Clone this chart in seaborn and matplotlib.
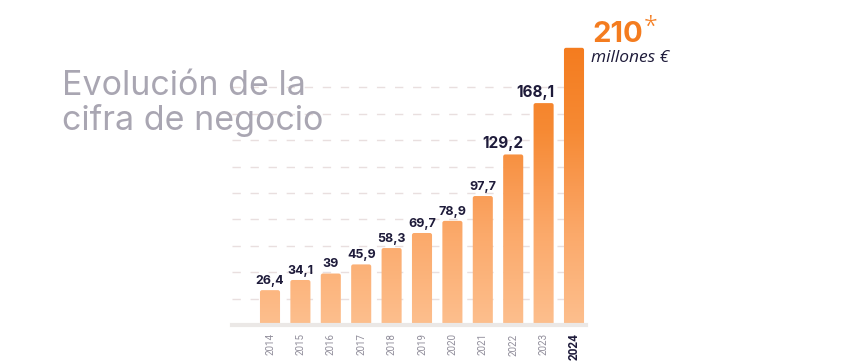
import numpy as np
import pandas as pd
import matplotlib
matplotlib.use("Agg")
import matplotlib.pyplot as plt
from matplotlib.colors import LinearSegmentedColormap
from matplotlib.patches import FancyBboxPatch
import seaborn as sns

# data
years = ["2014", "2015", "2016", "2017", "2018", "2019", "2020", "2021", "2022", "2023", "2024"]
revenue = [26.4, 34.1, 39, 45.9, 58.3, 69.7, 78.9, 97.7, 129.2, 168.1, 210]
value_labels = ["26,4", "34,1", "39", "45,9", "58,3", "69,7", "78,9", "97,7", "129,2", "168,1", "210"]
title = "Evolución de la\ncifra de negocio"
unit = "millones €"

df = pd.DataFrame({"year": years, "revenue": revenue})

sns.set_theme(style="white")
plt.rcParams["font.family"] = ["Open Sans", "DejaVu Sans"]

W, H = 841, 361
fig = plt.figure(figsize=(W / 100, H / 100), dpi=100)

# axes placed in pixels: baseline at y=325, bar centres at 270 + 30.4*i
px_per_unit = 1.32
ax_left, ax_right = 232, 586
ax_bottom, ax_top = 325, 5
x0 = (ax_left - 270) / 30.4
x1 = (ax_right - 270) / 30.4
ymax = (ax_bottom - ax_top) / px_per_unit
ax = fig.add_axes([ax_left / W, (H - ax_bottom) / H, (ax_right - ax_left) / W, (ax_bottom - ax_top) / H])

sns.barplot(data=df, x="year", y="revenue", ax=ax, width=0.66, color="#f7913d")
ax.set_xlim(x0, x1)
ax.set_ylim(0, ymax)

# dashed guide lines
for g in range(20, 200, 20):
    ax.axhline(g, color="#e9dfdf", lw=1.0, ls=(0, (6, 7)), zorder=0)

# gradient fill clipped to rounded bars
cmap = LinearSegmentedColormap.from_list(
    "orange", [(0, "#fdbf8e"), (0.33, "#fba96a"), (0.5, "#f99a52"), (0.7, "#f68a34"), (1, "#f47c1f")])
grad = np.linspace(0, 1, 256).reshape(-1, 1)
aspect = 30.4 / px_per_unit
for p in list(ax.patches):
    x, w, h = p.get_x(), p.get_width(), p.get_height()
    p.set_visible(False)
    rb = FancyBboxPatch((x, 0), w, h, boxstyle="round,pad=0,rounding_size=0.07",
                        mutation_aspect=aspect, facecolor="none", edgecolor="none")
    ax.add_patch(rb)
    im = ax.imshow(grad, cmap=cmap, origin="lower", aspect="auto",
                   extent=(x0, x1, 0, 210), zorder=2)
    im.set_clip_path(rb)
ax.set_xlim(x0, x1)
ax.set_ylim(0, ymax)

# value labels (large ones sit flush with the bar's right edge)
navy = "#1e1b3a"
for i, (v, lab) in enumerate(zip(revenue[:-1], value_labels[:-1])):
    if v > 100:
        ax.text(i + 0.35, v + 2.5, lab, ha="right", va="bottom", fontsize=11,
                fontweight="bold", color=navy, family=["Inter", "DejaVu Sans"])
    else:
        ax.text(i, v + 2.5, lab, ha="center", va="bottom", fontsize=9,
                fontweight="bold", color=navy, family=["Inter", "DejaVu Sans"])

# highlighted last value
fig.text(592 / W, 1 - 42 / H, value_labels[-1], fontsize=21, fontweight="bold",
         color="#f47c1f", ha="left", va="baseline", family=["Inter", "DejaVu Sans"])
fig.text(644 / W, 1 - 34 / H, "*", fontsize=18, color="#f47c1f", fontweight="light",
         ha="left", va="baseline", family=["Open Sans", "DejaVu Sans"])
fig.text(591 / W, 1 - 62 / H, unit, fontsize=12.5, style="italic", color=navy,
         ha="left", va="baseline", family=["Open Sans", "DejaVu Sans"])

# title
fig.text(62 / W, 1 - 130 / H, title, fontsize=24.5, color="#a9a6b2",
         ha="left", va="baseline", linespacing=1.06, family=["Inter", "DejaVu Sans"])

# axes styling
sns.despine(ax=ax, left=True, top=True, right=True, bottom=False)
ax.spines["bottom"].set_color("#ebe8e6")
ax.spines["bottom"].set_linewidth(3)
ax.spines["bottom"].set_zorder(5)
ax.set_yticks([])
ax.set_xlabel("")
ax.set_ylabel("")
ax.tick_params(axis="x", length=0, pad=6)
ax.set_xticks(range(len(years)))
ax.set_xticklabels(years, rotation=90, fontsize=7, color="#908d9a",
                   family=["Roboto", "DejaVu Sans"])
last = ax.get_xticklabels()[-1]
last.set_fontweight("bold")
last.set_color(navy)
last.set_fontsize(8.5)
ax.set_facecolor("none")

fig.savefig("out.png", dpi=100, facecolor="white")
